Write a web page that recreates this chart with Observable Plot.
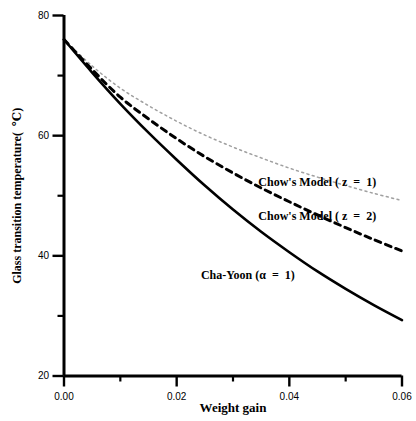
<!DOCTYPE html>
<html>
<head>
<meta charset="utf-8">
<script src="https://cdn.jsdelivr.net/npm/d3@7"></script>
<script src="https://cdn.jsdelivr.net/npm/@observablehq/plot@0.6"></script>
<style>
  html, body { margin: 0; padding: 0; background: #fff; }
  #chart svg { display: block; }
</style>
</head>
<body>
<div id="chart"></div>
<script>
// Weight gain (x) sample points
const weightGain = [0, 0.005, 0.01, 0.015, 0.02, 0.025, 0.03, 0.035, 0.04, 0.045, 0.05, 0.055, 0.06];
// Glass transition temperature (°C)
const chaYoon  = [76, 70.5, 65.3, 60.5, 56.0, 51.7, 47.7, 44.0, 40.6, 37.4, 34.5, 31.8, 29.3];
const chowZ2   = [76, 71.0, 66.4, 62.8, 59.5, 56.5, 53.8, 51.3, 49.0, 46.8, 44.7, 42.7, 40.8];
const chowZ1   = [76, 71.6, 67.9, 65.0, 62.4, 60.1, 58.1, 56.3, 54.6, 53.1, 51.7, 50.4, 49.2];

const yMajorTicks = [20, 40, 60, 80];
const yMinorTicks = [30, 50, 70];
const xMajorTicks = [0, 0.02, 0.04, 0.06];
const xMinorTicks = [0.01, 0.03, 0.05];

const curveLabels = [
  {text: "Chow's Model ( z  =  1)", x: 0.0345, y: 52.3},
  {text: "Chow's Model ( z  =  2)", x: 0.0345, y: 46.6},
  {text: "Cha-Yoon (α  =  1)", x: 0.0243, y: 36.8}
];

const xTitle = "Weight gain";
const yTitle = "Glass transition temperature(  ℃)";

const toRows = (ys) => weightGain.map((x, i) => ({x, y: ys[i]}));

const serif = "'Liberation Serif', 'DejaVu Serif', serif";
const sans = "'Liberation Sans', Arial, sans-serif";

const chart = Plot.plot({
  width: 416,
  height: 421,
  marginLeft: 63.5,
  marginRight: 14.5,
  marginTop: 15,
  marginBottom: 45.5,
  style: {fontFamily: sans, fontSize: "10px", color: "#000", background: "#fff"},
  x: {domain: [0, 0.06]},
  y: {domain: [20, 80]},
  marks: [
    Plot.axisY(yMinorTicks, {tickSize: 6, tickFormat: () => "", strokeWidth: 2.2, label: null}),
    Plot.axisX(xMinorTicks, {tickSize: 6, tickFormat: () => "", strokeWidth: 2.2, label: null}),
    Plot.axisY(yMajorTicks, {tickSize: 11, tickPadding: 4, tickFormat: d => String(d), strokeWidth: 2.4, label: null, fontSize: 10}),
    Plot.axisX(xMajorTicks, {tickSize: 11, tickPadding: 6, tickFormat: d3.format(".2f"), strokeWidth: 2.4, label: null, fontSize: 10}),
    Plot.ruleX([0], {strokeWidth: 3}),
    Plot.ruleY([20], {strokeWidth: 3}),
    Plot.line(toRows(chowZ1), {x: "x", y: "y", stroke: "#a0a0a0", strokeWidth: 1.5, strokeDasharray: "2,3.5", curve: "catmull-rom"}),
    Plot.line(toRows(chowZ2), {x: "x", y: "y", stroke: "#000", strokeWidth: 3, strokeDasharray: "6,5", curve: "catmull-rom"}),
    Plot.line(toRows(chaYoon), {x: "x", y: "y", stroke: "#000", strokeWidth: 2.6, curve: "catmull-rom"}),
    Plot.text(curveLabels, {x: "x", y: "y", text: "text", textAnchor: "start", fontFamily: serif, fontWeight: "bold", fontSize: 12, fill: "#000"}),
    Plot.text([yTitle], {frameAnchor: "left", textAnchor: "middle", lineAnchor: "middle", rotate: -90, dx: -46.5, fontFamily: serif, fontWeight: "bold", fontSize: 12, fill: "#000"}),
    Plot.text([xTitle], {frameAnchor: "bottom", textAnchor: "middle", dy: 35.5, fontFamily: serif, fontWeight: "bold", fontSize: 13, fill: "#000"})
  ]
});

document.getElementById("chart").appendChild(chart);
</script>
</body>
</html>
